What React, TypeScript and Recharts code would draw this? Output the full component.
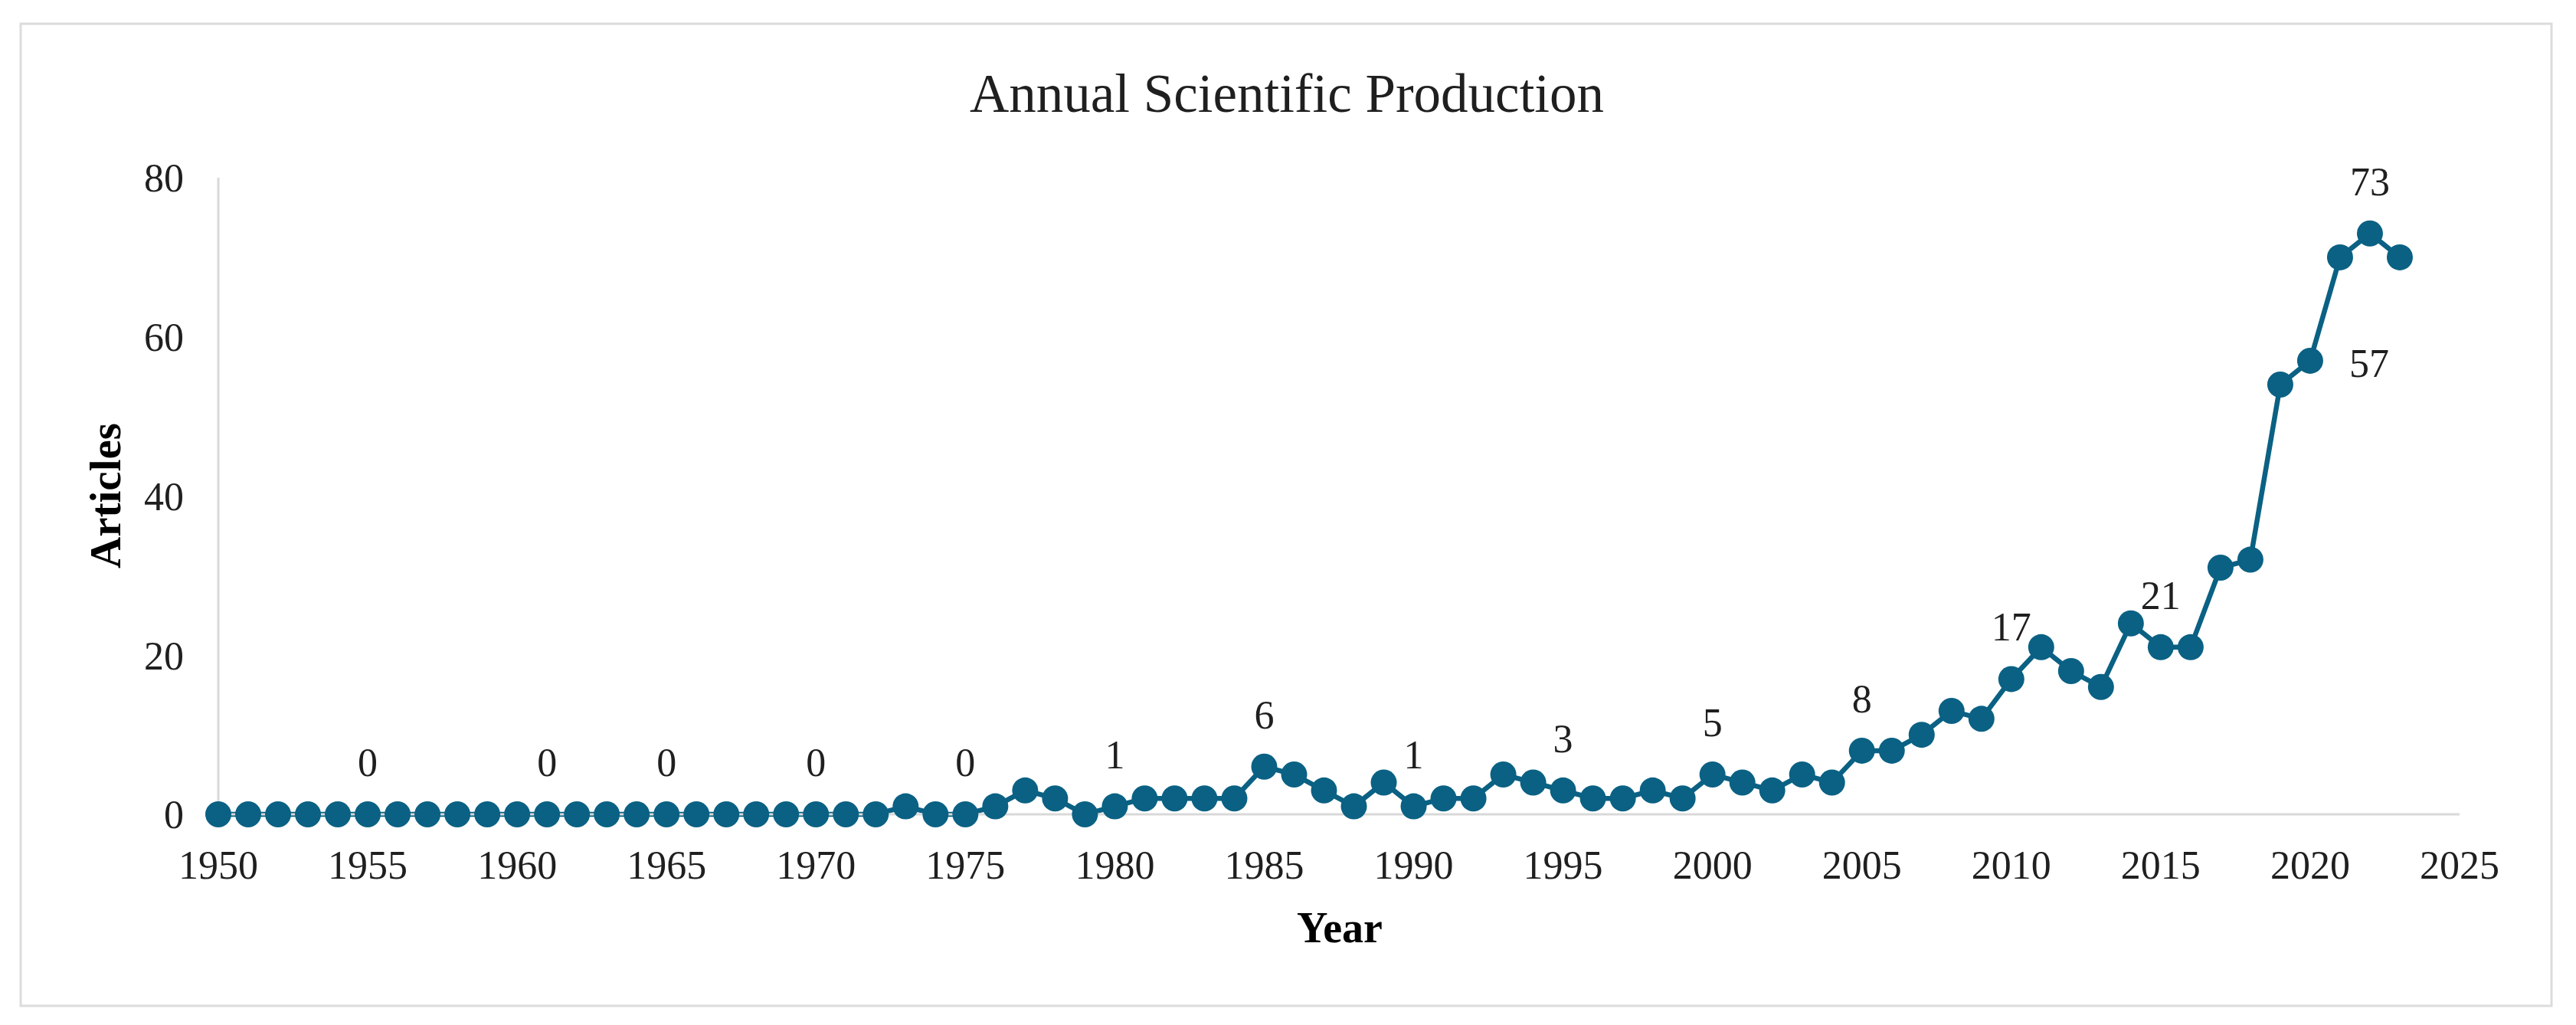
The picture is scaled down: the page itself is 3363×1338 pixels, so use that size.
import React from "react";
import { LineChart, Line, XAxis, YAxis, LabelList } from "recharts";

const years = [
  1950, 1951, 1952, 1953, 1954, 1955, 1956, 1957, 1958, 1959,
  1960, 1961, 1962, 1963, 1964, 1965, 1966, 1967, 1968, 1969,
  1970, 1971, 1972, 1973, 1974, 1975, 1976, 1977, 1978, 1979,
  1980, 1981, 1982, 1983, 1984, 1985, 1986, 1987, 1988, 1989,
  1990, 1991, 1992, 1993, 1994, 1995, 1996, 1997, 1998, 1999,
  2000, 2001, 2002, 2003, 2004, 2005, 2006, 2007, 2008, 2009,
  2010, 2011, 2012, 2013, 2014, 2015, 2016, 2017, 2018, 2019,
  2020, 2021, 2022, 2023,
];

const articles = [
  0, 0, 0, 0, 0, 0, 0, 0, 0, 0,
  0, 0, 0, 0, 0, 0, 0, 0, 0, 0,
  0, 0, 0, 1, 0, 0, 1, 3, 2, 0,
  1, 2, 2, 2, 2, 6, 5, 3, 1, 4,
  1, 2, 2, 5, 4, 3, 2, 2, 3, 2,
  5, 4, 3, 5, 4, 8, 8, 10, 13, 12,
  17, 21, 18, 16, 24, 21, 21, 31, 32, 54,
  57, 70, 73, 70,
];

const xTicks = [1950, 1955, 1960, 1965, 1970, 1975, 1980, 1985, 1990, 1995, 2000, 2005, 2010, 2015, 2020, 2025];
const yTicks = [0, 20, 40, 60, 80];

// years that carry a data label; 2020's label sits to the right of its point
const labelYears = [1955, 1961, 1965, 1970, 1975, 1980, 1985, 1990, 1995, 2000, 2005, 2010, 2015, 2020, 2022];
const rightLabelYears = [2020];

const data = years.map((year, i) => ({ year, articles: articles[i] }));

const SERIF = '"Liberation Serif", "Times New Roman", serif';
const LINE_COLOR = "#0A6183";
const TEXT_COLOR = "#1F1F1F";

const renderLabel = (props: any) => {
  const { x, y, value, index } = props;
  const year = years[index];
  if (!labelYears.includes(year)) return <g />;
  if (rightLabelYears.includes(year)) {
    return (
      <text x={x + 51} y={y + 21} fontSize={52} fontFamily={SERIF} fill={TEXT_COLOR} textAnchor="start">
        {value}
      </text>
    );
  }
  return (
    <text x={x} y={y - 50} fontSize={52} fontFamily={SERIF} fill={TEXT_COLOR} textAnchor="middle">
      {value}
    </text>
  );
};

export default function App() {
  const tickStyle = { fontSize: 52, fontFamily: SERIF, fill: TEXT_COLOR };
  return (
    <div style={{ position: "absolute", left: 0, top: 0, width: 3363, height: 1338, background: "#fff" }}>
      <LineChart width={3363} height={1338} data={data} margin={{ top: 232, right: 152, bottom: 175, left: 185 }}>
        <XAxis
          dataKey="year"
          type="number"
          domain={[1950, 2025]}
          ticks={xTicks}
          interval={0}
          tickLine={false}
          tickSize={0}
          tickMargin={47}
          height={100}
          axisLine={{ stroke: "#D9D9D9", strokeWidth: 3 }}
          tick={tickStyle}
        />
        <YAxis
          domain={[0, 80]}
          ticks={yTicks}
          interval={0}
          tickLine={false}
          tickSize={0}
          tickMargin={45}
          width={100}
          axisLine={{ stroke: "#D9D9D9", strokeWidth: 3 }}
          tick={tickStyle}
        />
        <Line
          type="linear"
          dataKey="articles"
          stroke={LINE_COLOR}
          strokeWidth={6.5}
          dot={{ r: 17, fill: LINE_COLOR, stroke: LINE_COLOR, strokeWidth: 0 }}
          activeDot={false}
          isAnimationActive={false}
        >
          <LabelList dataKey="articles" content={renderLabel} />
        </Line>
      </LineChart>
      <svg
        width={3363}
        height={1338}
        style={{ position: "absolute", left: 0, top: 0, pointerEvents: "none" }}
      >
        <rect x={27} y={31} width={3304} height={1282} fill="none" stroke="#DCDCDC" strokeWidth={3} />
        <text x={1680} y={146} fontSize={71} fontFamily={SERIF} fill={TEXT_COLOR} textAnchor="middle">
          Annual Scientific Production
        </text>
        <text x={1749} y={1230} fontSize={56} fontWeight="bold" fontFamily={SERIF} fill="#000" textAnchor="middle">
          Year
        </text>
        <text
          x={0}
          y={0}
          transform="translate(157 647) rotate(-90)"
          fontSize={57}
          fontWeight="bold"
          fontFamily={SERIF}
          fill="#000"
          textAnchor="middle"
        >
          Articles
        </text>
      </svg>
    </div>
  );
}
